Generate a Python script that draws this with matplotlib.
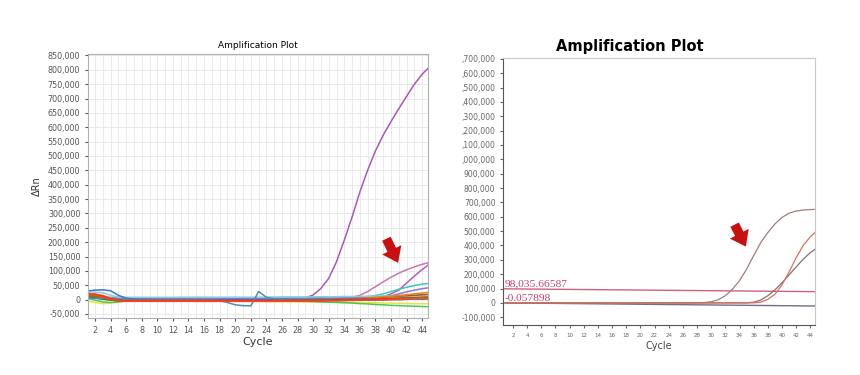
import numpy as np
import matplotlib.pyplot as plt
from matplotlib.ticker import MultipleLocator, FuncFormatter

# ---- data ----
cycles = list(range(1, 46))

# left panel: delta Rn per cycle for each well
left_series = {
    '#a858b8': [5000, 4000, 3000, 3000, 2000, 2000, 2000, 2000, 2000, 2000,
                2000, 2000, 2000, 2000, 2000, 2000, 2000, 2000, 2000, 2000,
                2000, 2000, 2000, 2000, 2000, 3000, 3000, 4000, 6000, 16000,
                39000, 74000, 132000, 207000, 288000, 375000, 451000, 518000, 573000, 620000,
                665000, 708000, 750000, 785000, 812000],
    '#c878b0': [8000, 6000, 4000, 3000, 2000, 1000, 1000, 0, 0, 0,
                0, 0, 0, 0, 0, 0, 0, 0, 0, 0,
                0, 0, 0, 0, 0, 0, 0, 1000, 1000, 2000,
                2000, 3000, 3000, 4000, 8000, 15000, 28000, 45000, 62000, 78000,
                92000, 104000, 114000, 123000, 130000],
    '#b060c0': [10000, 8000, 5000, 3000, 2000, 1000, 0, 0, 0, 0,
                0, 0, 0, 0, 0, 0, 0, 0, 0, 0,
                0, 0, 0, 0, 0, 0, 0, 0, 0, 0,
                1000, 1000, 1000, 2000, 2000, 2000, 3000, 4000, 10000, 20000,
                33000, 58000, 82000, 105000, 125000],
    '#3cc8c0': [20000, 15000, 10000, 8000, 7000, 6000, 6000, 6000, 6000, 6000,
                6000, 6000, 7000, 7000, 7000, 7000, 7000, 7000, 7000, 7000,
                7000, 7000, 7000, 7000, 7000, 8000, 8000, 8000, 8000, 8000,
                8000, 8000, 8000, 8000, 8000, 9000, 10000, 14000, 20000, 28000,
                36000, 43000, 49000, 54000, 57000],
    '#9078c8': [15000, 12000, 8000, 5000, 4000, 4000, 4000, 4000, 4000, 4000,
                4000, 4000, 4000, 4000, 4000, 4000, 4000, 4000, 4000, 4000,
                4000, 4000, 4000, 4000, 4000, 4000, 4000, 4000, 4000, 4000,
                4000, 4000, 5000, 5000, 5000, 5000, 5000, 5000, 8000, 13000,
                20000, 27000, 33000, 38000, 42000],
    '#90c8e8': [25000, 26000, 24000, 15000, 9000, 8000, 8000, 8000, 8000, 8000,
                8000, 8000, 8000, 8000, 8000, 8000, 8000, 8000, 8000, 8000,
                8000, 8000, 8000, 8000, 9000, 9000, 9000, 9000, 9000, 10000,
                10000, 10000, 10000, 11000, 11000, 11000, 12000, 12000, 13000, 13000,
                14000, 14000, 15000, 15000, 16000],
    '#e8e050': [-5000, -10000, -14000, -12000, -8000, -6000, -5000, -5000, -5000, -5000,
                -5000, -5000, -5000, -5000, -6000, -6000, -6000, -6000, -6000, -6000,
                -6000, -6000, -6000, -7000, -7000, -7000, -7000, -8000, -8000, -8000,
                -9000, -9000, -9000, -10000, -10000, -10000, -11000, -11000, -12000, -12000,
                -13000, -13000, -14000, -14000, -15000],
    '#4cc84c': [5000, -2000, -8000, -10000, -8000, -5000, -3000, -2000, -2000, -2000,
                -2000, -2000, -2000, -2000, -3000, -3000, -3000, -3000, -3000, -3000,
                -3000, -3000, -3000, -3000, -4000, -4000, -5000, -5000, -6000, -7000,
                -8000, -9000, -10000, -11000, -12000, -14000, -15000, -17000, -18000, -20000,
                -21000, -22000, -23000, -24000, -25000],
    '#206020': [8000, 6000, 2000, -2000, -4000, -5000, -5000, -5000, -5000, -5000,
                -5000, -5000, -5000, -5000, -5000, -5000, -5000, -5000, -5000, -5000,
                -5000, -5000, -5000, -5000, -5000, -5000, -5000, -4000, -4000, -4000,
                -4000, -3000, -3000, -3000, -2000, -2000, -2000, -1000, -1000, 0,
                0, 1000, 2000, 2000, 3000],
    '#808000': [10000, 12000, 8000, 0, -4000, -4000, -4000, -4000, -4000, -4000,
                -4000, -4000, -4000, -4000, -4000, -4000, -4000, -4000, -4000, -4000,
                -4000, -4000, -4000, -4000, -3000, -3000, -3000, -3000, -2000, -2000,
                -2000, -1000, -1000, 0, 0, 1000, 2000, 3000, 4000, 5000,
                6000, 7000, 8000, 9000, 10000],
    '#a0601c': [12000, 14000, 10000, 2000, -3000, -5000, -5000, -5000, -5000, -5000,
                -5000, -5000, -5000, -5000, -5000, -5000, -5000, -5000, -5000, -5000,
                -5000, -5000, -4000, -4000, -4000, -3000, -3000, -3000, -2000, -2000,
                -1000, 0, 1000, 2000, 3000, 4000, 5000, 7000, 8000, 10000,
                12000, 13000, 15000, 17000, 19000],
    '#e8821e': [18000, 20000, 15000, 5000, 0, -2000, -2000, -2000, -2000, -2000,
                -2000, -2000, -2000, -2000, -2000, -2000, -2000, -2000, -2000, -2000,
                -2000, -2000, -2000, -2000, -2000, -1000, -1000, 0, 0, 0,
                0, 1000, 1000, 2000, 3000, 4000, 6000, 8000, 10000, 12000,
                14000, 17000, 20000, 23000, 26000],
    '#3878c8': [30000, 33000, 34000, 31000, 15000, 5000, 2000, 1000, 0, 0,
                0, 0, 0, 0, 0, 0, 0, 0, 0, 0,
                0, 0, 0, 0, 0, 0, 0, 0, 0, 1000,
                1000, 1000, 1000, 1000, 2000, 2000, 2000, 2000, 3000, 3000,
                3000, 4000, 4000, 4000, 5000],
    '#5090a8': [6000, 5000, 4000, 3000, 2000, 1000, 0, 0, 0, 0,
                0, 0, 0, 0, 0, 0, 0, -4000, -10000, -18000,
                -21000, -22000, 28000, 8000, 3000, 2000, 2000, 2000, 2000, 2000,
                2000, 2000, 2000, 2000, 2000, 2000, 2000, 2000, 2000, 2000,
                2000, 2000, 2000, 2000, 2000],
    '#e83020': [20000, 18000, 12000, 3000, -2000, -3000, -3000, -3000, -3000, -3000,
                -3000, -3000, -3000, -3000, -3000, -3000, -3000, -3000, -3000, -3000,
                -3000, -3000, -3000, -3000, -3000, -3000, -2000, -2000, -2000, -2000,
                -1000, -1000, 0, 0, 1000, 1000, 2000, 2000, 3000, 3000,
                4000, 4000, 5000, 5000, 6000],
    '#f04828': [14000, 16000, 8000, 0, -4000, -6000, -6000, -6000, -6000, -6000,
                -6000, -6000, -6000, -6000, -6000, -6000, -6000, -6000, -6000, -6000,
                -6000, -6000, -6000, -6000, -6000, -6000, -6000, -5000, -5000, -5000,
                -5000, -4000, -4000, -3000, -3000, -2000, -2000, -1000, 0, 1000,
                2000, 3000, 4000, 5000, 6000],
}

# right panel: amplification curves, threshold and baseline
right_main = [0, 0, 0, 0, 0, 0, 0, 0, 0, 0,
              0, 0, 0, 0, 0, 0, 0, 0, 0, 0,
              0, 0, 0, 0, 0, 0, 0, 0, 2000, 8000,
              22000, 50000, 95000, 155000, 235000, 330000, 420000, 490000, 550000, 595000,
              625000, 640000, 647000, 650000, 652000]
right_red = [0, 0, 0, 0, 0, 0, 0, 0, 0, 0,
             0, 0, 0, 0, 0, 0, 0, 0, 0, 0,
             0, 0, 0, 0, 0, 0, 0, 0, 0, 0,
             0, 0, 0, 0, 0, 0, 5000, 25000, 60000, 125000,
             215000, 315000, 400000, 460000, 505000]
right_gray = [0, 0, 0, 0, 0, 0, 0, 0, 0, 0,
              0, 0, 0, 0, 0, 0, 0, 0, 0, 0,
              0, 0, 0, 0, 0, 0, 0, 0, 0, 0,
              0, 0, 0, 0, 0, 5000, 20000, 50000, 90000, 140000,
              195000, 250000, 305000, 350000, 385000]
threshold_x = [0.6, 45]
threshold_y = [98035.66587, 78000]
baseline_y = [-0.057898, -22000]

right_yticks = list(range(-100000, 1700001, 100000))
right_ylabels = ['-100,000', '0', '100,000', '200,000', '300,000', '400,000', '500,000',
                 '600,000', '700,000', '800,000', '900,000', ',000,000', ',100,000',
                 ',200,000', ',300,000', ',400,000', ',500,000', ',600,000', ',700,000']

# ---- figure ----
fig = plt.figure(figsize=(8.6, 3.75), dpi=100)
tick_gray = '#555555'
arrow_style = 'simple,head_width=1.9,head_length=1.3,tail_width=0.85'

# left panel
ax1 = fig.add_axes([0.1023, 0.152, 0.395, 0.704])
for color, vals in left_series.items():
    ax1.plot(cycles, vals, color=color, lw=1.1)
ax1.set_xlim(1.1, 44.7)
ax1.set_ylim(-64000, 855000)
ax1.xaxis.set_major_locator(MultipleLocator(2))
ax1.xaxis.set_minor_locator(MultipleLocator(1))
ax1.yaxis.set_major_locator(MultipleLocator(50000))
ax1.yaxis.set_major_formatter(FuncFormatter(lambda v, p: f'{v:,.0f}'))
ax1.grid(which='both', color='#e6e6e6', lw=0.6)
ax1.set_axisbelow(True)
ax1.tick_params(labelsize=5.8, colors=tick_gray, length=2)
ax1.tick_params(which='minor', length=0)
for s in ax1.spines.values():
    s.set_color('#b0b0b0')
ax1.set_title('Amplification Plot', fontsize=6.5, pad=4)
ax1.set_xlabel('Cycle', fontsize=8, color='#333333', labelpad=2)
ax1.set_ylabel('ΔRn', fontsize=7, color='#333333', labelpad=4)
ax1.annotate('', xy=(40.9, 128000), xytext=(39.4, 212000),
             arrowprops=dict(arrowstyle=arrow_style, mutation_scale=8,
                             shrinkA=0, shrinkB=0, color='#c81010', lw=0))

# right panel
ax2 = fig.add_axes([0.585, 0.133, 0.363, 0.712])
ax2.plot(threshold_x, threshold_y, color='#d06080', lw=1.0)
ax2.plot(threshold_x, baseline_y, color='#707080', lw=1.0)
ax2.plot(cycles, right_main, color='#9a8078', lw=0.9)
ax2.plot(cycles, right_gray, color='#8a7070', lw=0.9)
ax2.plot(cycles, right_red, color='#d87060', lw=0.9)
ax2.text(0.8, 100000, '98,035.66587', color='#c0406a', fontsize=8.2,
         family='Liberation Serif', va='bottom')
ax2.text(0.8, 2000, '-0.057898', color='#c0406a', fontsize=8.2,
         family='Liberation Serif', va='bottom')
ax2.set_xlim(0.6, 44.7)
ax2.set_ylim(-155000, 1705000)
ax2.set_xticks(list(range(2, 45, 2)))
ax2.set_yticks(right_yticks)
ax2.set_yticklabels(right_ylabels)
ax2.tick_params(axis='y', labelsize=5.5, colors='#666666', length=2)
ax2.tick_params(axis='x', labelsize=4, colors='#666666', length=2)
ax2.spines['left'].set_color('#555555')
ax2.spines['bottom'].set_color('#555555')
ax2.spines['top'].set_color('#c8c8c8')
ax2.spines['right'].set_color('#c8c8c8')
ax2.set_xlabel('Cycle', fontsize=7, color='#444444', labelpad=2)
ax2.annotate('', xy=(34.9, 392000), xytext=(33.3, 545000),
             arrowprops=dict(arrowstyle=arrow_style, mutation_scale=8,
                             shrinkA=0, shrinkB=0, color='#c81010', lw=0))
fig.text(630 / 860, 1 - 47 / 375, 'Amplification Plot', fontsize=10.5,
         fontweight='bold', ha='center', va='center')

fig.savefig('out.png', dpi=100)
